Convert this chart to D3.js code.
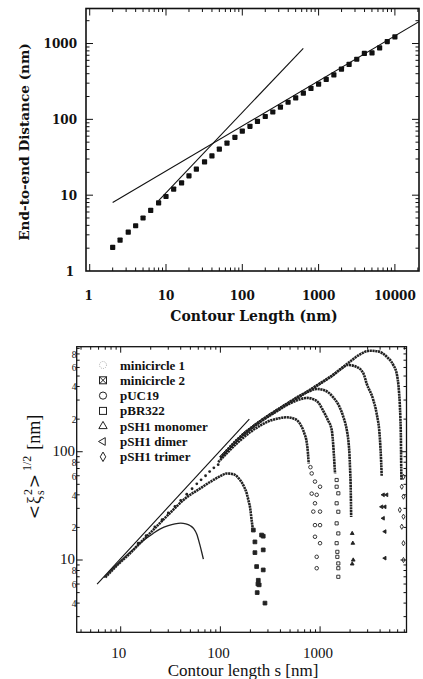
<!DOCTYPE html>
<html><head><meta charset="utf-8">
<script src="https://cdn.jsdelivr.net/npm/d3@7"></script>
<style>body{margin:0;background:#fff}svg{display:block}</style>
</head><body>
<svg id="c" width="423" height="679"></svg>
<script>
// ================= TOP PANEL DATA =================
const topLengths = [2, 2.5, 3.2, 4, 5, 6.3, 8, 10, 12.6, 16, 20, 25, 32, 40, 50, 63, 80, 100, 126, 158, 200, 251, 316, 398, 501, 631, 794, 1000, 1259, 1585, 1995, 2512, 3162, 3981, 5012, 6310, 7943, 10000];
const topDistances = [2.05, 2.55, 3.25, 3.95, 5.0, 6.3, 7.9, 9.6, 12, 14.5, 18, 22, 27.5, 33, 40.5, 48.5, 58, 70, 81, 94, 109, 125, 145, 168, 192, 222, 256, 291, 336, 386, 460, 530, 620, 740, 752, 875, 1062, 1222];
const topRodLine = [[8, 8.5], [630, 865]];
const topCoilLine = [[2, 8], [20700, 1940]];
const topXTickLabels = [1, 10, 100, 1000, 10000];
const topYTickLabels = [1, 10, 100, 1000];

// ================= BOTTOM PANEL DATA =================
const legendNames = ["minicircle 1", "minicircle 2", "pUC19", "pBR322", "pSH1 monomer", "pSH1 dimer", "pSH1 trimer"];
const botRodLine = [[5.8, 6.0], [195, 200]];
const mini1Curve = [[6.8,6.9],[9,8.9],[11.5,11.1],[14,13],[17,15.2],[21,17.5],[25,19.4],[30,20.8],[35,21.6],[40,21.9],[45,21.6],[50,20.7],[54,19.5],[58,17.3],[62,14],[65,11.8],[67.5,10.2]];
const mini2Curve = [[7,6.9],[9.5,9.2],[12,11.2],[15,13.8],[21,18.8],[31,27],[46,38],[62,45.5],[80,53],[100,59.5],[116,63],[135,62],[157,55],[172,48],[184,41],[192,35],[198,31],[203,26],[207,22.5],[211,19.5]];
const mini2Tail = [[214,18.9],[259,17],[222,14.7],[269,16.6],[222,11.7],[269,12.4],[231,8.7],[269,8.1],[240,6.5],[245,5.9],[234,5.0],[238,6.0],[280,4.0]];
const smallSPoints = [[15,14.3],[18,16.8],[22,20.2],[26,23.6],[30,27.2],[35,31.2],[40,35.5],[46,40.5],[52,45.5],[58,50.5],[64,55],[71,60],[78,65.5],[86,71],[95,76]];
const pUC19Curve = [[95,80],[120,100],[150,122],[200,152],[250,174],[300,190],[380,203],[460,208],[540,203],[600,192],[650,172],[700,145],[735,122],[755,98],[768,78]];
const pUC19Tail = [[800,72],[824,63],[889,53],[999,47.5],[824,41],[925,40],[889,33.4],[855,28],[999,28],[889,21],[999,21],[889,16.4],[999,14.3],[925,10.7],[925,8.4]];
const pBR322Curve = [[100,88],[157,135],[250,188],[367,236],[500,280],[630,305],[735,314],[850,306],[960,285],[1076,238],[1200,195],[1310,158],[1360,110],[1390,80],[1413,63]];
const pBR322Tail = [[1466,54.8],[1466,47.5],[1524,41.3],[1466,33.4],[1524,27.9],[1466,21.8],[1524,17.6],[1466,14.3],[1490,11.9],[1490,10.7],[1524,9.3],[1524,8.4],[1524,7.0]];
const monoCurve = [[100,88],[157,136],[250,190],[367,240],[500,290],[630,330],[800,365],[925,380],[1100,370],[1355,318],[1550,265],[1710,210],[1850,160],[1920,128],[1970,95],[1995,73],[2030,45],[2050,25]];
const monoTail = [[2100,17.6],[2130,14.3],[2150,10],[2100,9.2]];
const dimerCurve = [[100,88],[157,136],[250,191],[367,241],[628,325],[1000,425],[1355,510],[1650,590],[1900,632],[2300,610],[2717,530],[2930,427],[3420,300],[3690,226],[3990,128],[4100,80],[4150,60]];
const dimerTail = [[4300,40],[4660,40],[4150,31],[4470,31],[4300,24.3],[4470,18.3],[4470,10.4]];
const trimerCurve = [[100,88],[157,136],[250,191],[367,242],[628,326],[1000,428],[1355,515],[2000,680],[2500,790],[3162,857],[3800,845],[4660,754],[5430,631],[5860,530],[6200,350],[6320,261],[6470,128],[6520,70],[6550,55]];
const trimerTail = [[6860,58.7],[6600,47.5],[6860,38.5],[6310,29],[6860,25.1],[6600,20.3],[6860,14.3],[6860,10]];
const botXTickLabels = [10, 100, 1000];
const botYBigLabels = [10, 100];
const botYSmallLabels = [4, 6, 8, 20, 40, 60, 80, 200, 400, 600, 800];

// ================= DRAWING =================
const svg = d3.select('#c');
const isMajor = v => Math.abs(Math.log10(v) - Math.round(Math.log10(v))) < 1e-6;

function frame(g, x, y, maj, min, sw) {
  const [x0, x1] = x.range(), [y0, y1] = y.range();
  const tg = g.append('g').attr('stroke', '#111').attr('stroke-width', 1);
  x.ticks().forEach(v => {
    const p = x(v); if (p < x0 + 1 || p > x1 - 1) return;
    const L = isMajor(v) ? maj : min;
    tg.append('line').attr('x1', p).attr('x2', p).attr('y1', y0).attr('y2', y0 - L);
    tg.append('line').attr('x1', p).attr('x2', p).attr('y1', y1).attr('y2', y1 + L);
  });
  y.ticks().forEach(v => {
    const p = y(v); if (p > y0 - 1 || p < y1 + 1) return;
    const L = isMajor(v) ? maj : min;
    tg.append('line').attr('y1', p).attr('y2', p).attr('x1', x0).attr('x2', x0 + L);
    tg.append('line').attr('y1', p).attr('y2', p).attr('x1', x1).attr('x2', x1 - L);
  });
  g.append('rect').attr('x', x0).attr('y', y1).attr('width', x1 - x0).attr('height', y0 - y1)
    .attr('fill', 'none').attr('stroke', '#111').attr('stroke-width', sw);
}

// ---------- TOP ----------
const xT = d3.scaleLog().domain([0.894, 20700]).range([86, 419]);
const yT = d3.scaleLog().domain([1, 2896]).range([271, 8.5]);
const gT = svg.append('g');
svg.append('clipPath').attr('id', 'clipT').append('rect')
  .attr('x', 86).attr('y', 8.5).attr('width', 333).attr('height', 262.5);
const lineT = d3.line().x(d => xT(d[0])).y(d => yT(d[1]));
gT.append('path').datum(topCoilLine).attr('d', lineT).attr('fill', 'none').attr('stroke', '#111').attr('stroke-width', 1.1).attr('clip-path', 'url(#clipT)');
gT.append('path').datum(topRodLine).attr('d', lineT).attr('fill', 'none').attr('stroke', '#111').attr('stroke-width', 1.1);
gT.append('g').selectAll('rect').data(topLengths.map((L, i) => [L, topDistances[i]])).join('rect')
  .attr('x', d => xT(d[0]) - 2.6).attr('y', d => yT(d[1]) - 2.6).attr('width', 5.2).attr('height', 5.2)
  .attr('rx', 0.8).attr('fill', '#111');
frame(gT, xT, yT, 7, 3.5, 1.6);
const fTop = "'DejaVu Serif', serif";
gT.append('g').selectAll('text').data(topXTickLabels).join('text')
  .attr('x', d => xT(d) + (d === 1 ? -1 : 0)).attr('y', 300).attr('text-anchor', 'middle')
  .attr('font-family', fTop).attr('font-weight', 'bold').attr('font-size', 12).attr('fill', '#111').text(d => d);
gT.append('g').selectAll('text').data(topYTickLabels).join('text')
  .attr('x', d => d === 1 ? 74 : 77).attr('y', d => yT(d) + 4.5).attr('text-anchor', 'end')
  .attr('font-family', fTop).attr('font-weight', 'bold').attr('font-size', 12).attr('fill', '#111').text(d => d);
gT.append('text').attr('x', 254).attr('y', 321).attr('text-anchor', 'middle')
  .attr('font-family', fTop).attr('font-weight', 'bold').attr('font-size', 14).attr('fill', '#111').text('Contour Length (nm)');
gT.append('text').attr('transform', 'translate(29,142) rotate(-90)').attr('text-anchor', 'middle')
  .attr('font-family', fTop).attr('font-weight', 'bold').attr('font-size', 13.6).attr('fill', '#111').text('End-to-end Distance (nm)');

// ---------- BOTTOM ----------
const xB = d3.scaleLog().domain([3.62, 7360]).range([76.7, 406.5]);
const yB = d3.scaleLog().domain([2.15, 933]).range([632.3, 346.7]);
const gB = svg.append('g');
const lineB = d3.line().x(d => xB(d[0])).y(d => yB(d[1])).curve(d3.curveMonotoneX);
const lineStraight = d3.line().x(d => xB(d[0])).y(d => yB(d[1]));

gB.append('path').datum(botRodLine).attr('d', lineStraight).attr('fill', 'none').attr('stroke', '#111').attr('stroke-width', 1.1);
gB.append('path').datum(mini1Curve).attr('d', lineB).attr('fill', 'none').attr('stroke', '#222').attr('stroke-width', 1.3);
[mini2Curve, pUC19Curve, pBR322Curve, monoCurve, dimerCurve, trimerCurve].forEach(c => {
  gB.append('path').datum(c).attr('d', lineB).attr('fill', 'none').attr('stroke', '#222')
    .attr('stroke-width', 2.6).attr('stroke-dasharray', '2.2,0.6');
});
gB.append('g').selectAll('circle').data(smallSPoints).join('circle')
  .attr('cx', d => xB(d[0])).attr('cy', d => yB(d[1])).attr('r', 1.4).attr('fill', '#222');

function tail(data, type, filled, size, rot) {
  const sym = d3.symbol().type(type).size(size);
  gB.append('g').selectAll('path').data(data).join('path')
    .attr('transform', d => `translate(${xB(d[0])},${yB(d[1])}) rotate(${rot || 0})`)
    .attr('d', sym).attr('fill', filled ? '#222' : 'none').attr('stroke', '#222').attr('stroke-width', 0.9);
}
tail(mini2Tail, d3.symbolSquare, true, 14);
tail(pUC19Tail, d3.symbolCircle, false, 10);
tail(pBR322Tail, d3.symbolSquare, false, 10);
tail(monoTail, d3.symbolTriangle, true, 6);
tail(dimerTail, d3.symbolTriangle, true, 6, -90);
tail(trimerTail, d3.symbolDiamond, false, 8);

frame(gB, xB, yB, 6, 3, 1.3);

const fBot = "'Liberation Serif', 'Times New Roman', serif";
gB.append('g').selectAll('text').data(botXTickLabels).join('text')
  .attr('x', d => xB(d) - 2).attr('y', 658).attr('text-anchor', 'middle')
  .attr('font-family', fBot).attr('font-size', 15).attr('fill', '#111').text(d => d);
gB.append('g').selectAll('text').data(botYBigLabels).join('text')
  .attr('x', 75).attr('y', d => yB(d) + 4).attr('text-anchor', 'end')
  .attr('font-family', fBot).attr('font-size', 15).attr('fill', '#111').text(d => d);
gB.append('g').selectAll('text').data(botYSmallLabels).join('text')
  .attr('x', 76.5).attr('y', d => yB(d) + 3.8).attr('text-anchor', 'end')
  .attr('font-family', fBot).attr('font-size', 9.5).attr('fill', '#111')
  .text(d => String(d)[0]);
gB.append('text').attr('x', 243).attr('y', 676).attr('text-anchor', 'middle')
  .attr('font-family', fBot).attr('font-size', 17).attr('fill', '#111').text('Contour length s [nm]');

const yl = gB.append('text').attr('transform', 'translate(40,467) rotate(-90)').attr('text-anchor', 'middle')
  .attr('font-family', fBot).attr('font-size', 18).attr('fill', '#111');
yl.append('tspan').attr('font-family', "'DejaVu Serif', serif").attr('font-size', 17).text('<');
yl.append('tspan').attr('dx', 1).text('ξ');
yl.append('tspan').attr('font-size', 12).attr('dy', -8).attr('dx', 1).text('2');
yl.append('tspan').attr('font-size', 12).attr('dy', 12).attr('dx', -6).text('s');
yl.append('tspan').attr('font-family', "'DejaVu Serif', serif").attr('font-size', 17).attr('dy', -4).attr('dx', 2).text('>');
yl.append('tspan').attr('font-size', 12).attr('dy', -9).attr('dx', 3).text('1/2');
yl.append('tspan').attr('dy', 9).attr('dx', 6).text('[nm]');

// Legend
const legG = gB.append('g');
const legY0 = 365, legDY = 15.3;
legendNames.forEach((name, i) => {
  const cy = legY0 + i * legDY, cx = 103;
  legG.append('text').attr('x', 120).attr('y', cy + 4.5).attr('font-family', fBot).attr('font-weight', 'bold')
    .attr('font-size', 13).attr('fill', '#111').text(name);
  const st = g => g.attr('fill', 'none').attr('stroke', '#222').attr('stroke-width', 1);
  if (i === 0) st(legG.append('circle').attr('cx', cx).attr('cy', cy).attr('r', 3.5)).attr('stroke', '#aaa').attr('stroke-dasharray', '1,1.2');
  if (i === 1) {
    st(legG.append('rect').attr('x', cx - 3.5).attr('y', cy - 3.5).attr('width', 7).attr('height', 7));
    st(legG.append('path').attr('d', `M${cx-3.5},${cy-3.5}L${cx+3.5},${cy+3.5}M${cx+3.5},${cy-3.5}L${cx-3.5},${cy+3.5}`));
  }
  if (i === 2) st(legG.append('circle').attr('cx', cx).attr('cy', cy).attr('r', 3.6));
  if (i === 3) st(legG.append('rect').attr('x', cx - 3.5).attr('y', cy - 3.5).attr('width', 7).attr('height', 7));
  if (i === 4) st(legG.append('path').attr('d', d3.symbol().type(d3.symbolTriangle).size(30)).attr('transform', `translate(${cx},${cy})`));
  if (i === 5) st(legG.append('path').attr('d', d3.symbol().type(d3.symbolTriangle).size(26)).attr('transform', `translate(${cx},${cy}) rotate(-90)`));
  if (i === 6) st(legG.append('path').attr('d', d3.symbol().type(d3.symbolDiamond).size(26)).attr('transform', `translate(${cx},${cy})`));
});
</script>
</body></html>
